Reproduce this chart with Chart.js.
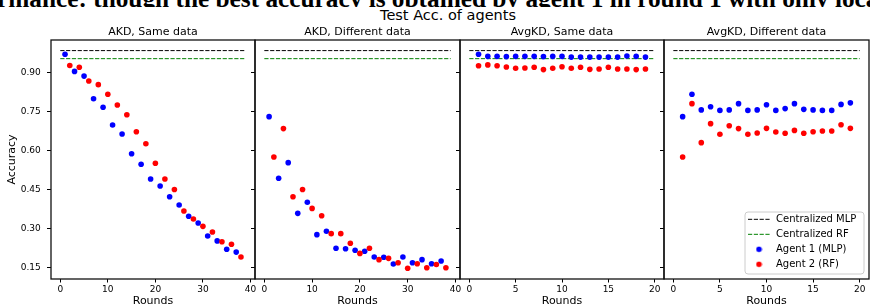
<!DOCTYPE html>
<html><head><meta charset="utf-8">
<script src="https://cdn.jsdelivr.net/npm/chart.js@4.4.0/dist/chart.umd.min.js"></script>
<style>
html,body{margin:0;padding:0;background:#fff;width:870px;height:308px;overflow:hidden;position:relative;}
canvas{position:absolute;top:0;}
#doc{position:absolute;left:0;top:0;width:870px;height:7px;overflow:hidden;}
#doc div{position:absolute;left:-3px;top:-14.3px;white-space:nowrap;font-family:"Liberation Serif";font-weight:bold;font-size:25.3px;line-height:25.3px;color:#000;}
#sup{position:absolute;left:298px;width:300px;top:7.7px;text-align:center;font-family:"DejaVu Sans";font-size:14.5px;line-height:14.5px;color:#000;white-space:nowrap;}
</style></head>
<body>
<div id="doc"><div>rmance: though the best accuracy is obtained by agent 1 in round 1 with only local</div></div>
<div id="sup">Test Acc. of agents</div>
<script>
// ---- data ----
const roundsAkdMLP = [1,3,5,7,9,11,13,15,17,19,21,23,25,27,29,31,33,35,37];
const roundsAkdRF  = [2,4,6,8,10,12,14,16,18,20,22,24,26,28,30,32,34,36,38];
const roundsAvg    = [1,2,3,4,5,6,7,8,9,10,11,12,13,14,15,16,17,18,19];
const lineSpanAkd  = [0, 39];
const lineSpanAvg  = [0, 20];
const centralMLP = 0.985;
const centralRF  = 0.954;
const akdSameMLP = [0.971,0.905,0.887,0.800,0.767,0.699,0.664,0.588,0.548,0.491,0.464,0.423,0.391,0.348,0.322,0.272,0.253,0.221,0.210];
const akdSameRF  = [0.928,0.921,0.868,0.854,0.817,0.776,0.738,0.673,0.627,0.552,0.491,0.451,0.368,0.337,0.309,0.287,0.250,0.240,0.191];
const akdDiffMLP = [0.731,0.494,0.554,0.359,0.402,0.277,0.290,0.225,0.223,0.217,0.213,0.191,0.190,0.164,0.191,0.169,0.181,0.165,0.176];
const akdDiffRF  = [0.576,0.685,0.423,0.451,0.378,0.350,0.281,0.281,0.244,0.205,0.225,0.181,0.186,0.169,0.148,0.165,0.150,0.162,0.150];
const avgSameMLP = [0.971,0.963,0.963,0.962,0.963,0.963,0.963,0.962,0.963,0.963,0.960,0.960,0.960,0.960,0.960,0.960,0.964,0.963,0.960];
const avgSameRF  = [0.927,0.930,0.927,0.922,0.917,0.918,0.921,0.912,0.917,0.923,0.917,0.921,0.913,0.914,0.921,0.914,0.914,0.912,0.914];
const avgDiffMLP = [0.731,0.817,0.757,0.769,0.755,0.757,0.781,0.755,0.757,0.777,0.755,0.762,0.781,0.759,0.757,0.755,0.755,0.778,0.784];
const avgDiffRF  = [0.576,0.781,0.631,0.704,0.663,0.696,0.685,0.663,0.668,0.686,0.672,0.667,0.678,0.667,0.673,0.676,0.676,0.700,0.686];
const yTicks   = [0.15,0.30,0.45,0.60,0.75,0.90];
const xTicksAkd = [0,10,20,30,40];
const xTicksAvg = [0,5,10,15,20];
const panelTitles = ['AKD, Same data','AKD, Different data','AvgKD, Same data','AvgKD, Different data'];
const seriesLabels = ['Centralized MLP','Centralized RF','Agent 1 (MLP)','Agent 2 (RF)'];

// ---- layout ----
const FONT = "'DejaVu Sans', sans-serif";
const panelLeft  = [51, 255, 460, 664];
const panelRight = [255, 460, 664, 869];
const plotTop = 40, plotBottom = 279, H = 308, PADR = 14;
const yMin = 0.1065, yMax = 1.0258;

function icon(kind, color){
  const c = document.createElement('canvas');
  const g = c.getContext('2d');
  if (kind === 'line'){
    c.width = 22; c.height = 3;
    g.strokeStyle = color; g.lineWidth = 1; g.setLineDash([4.2,1.6]);
    g.beginPath(); g.moveTo(0,1.5); g.lineTo(22,1.5); g.stroke();
  } else {
    c.width = 7; c.height = 7;
    g.fillStyle = color; g.beginPath(); g.arc(3.5,3.5,2.8,0,Math.PI*2); g.fill();
  }
  return c;
}
const legendIcons = [icon('line','#000'), icon('line','#008000'), icon('dot','#0000ff'), icon('dot','#ff0000')];

const framePlugin = {
  id:'frame',
  beforeDraw(chart, args, opts){
    if (!opts.legendBox) return;
    const [x0,y0,x1,y1] = opts.legendBox;
    const ctx = chart.ctx; const cl = opts.canvasLeft;
    ctx.save();
    ctx.beginPath();
    ctx.roundRect(x0-cl, y0, x1-x0, y1-y0, 3);
    ctx.fillStyle = 'rgba(255,255,255,0.8)'; ctx.fill();
    ctx.strokeStyle = '#cccccc'; ctx.lineWidth = 1; ctx.stroke();
    ctx.restore();
  },
  afterDraw(chart){
    const a = chart.chartArea; const ctx = chart.ctx;
    ctx.save(); ctx.strokeStyle = '#111'; ctx.lineWidth = 1.3;
    ctx.strokeRect(a.left, a.top, a.right-a.left, a.bottom-a.top);
    ctx.restore();
  }
};

const legendPlace = {
  id:'legendPlace',
  beforeLayout(chart, args, opts){
    const lg = chart.legend;
    if (!lg || lg._patched) return;
    lg._patched = true;
    const origFit = Object.getPrototypeOf(lg).fit;
    lg.fit = function(){ origFit.call(this); this.width = 0; this.height = 0; };
  },
  afterLayout(chart, args, opts){
    const lg = chart.legend; if (!lg) return;
    lg.left = opts.x - opts.canvasLeft; lg.top = opts.y;
    lg.width = 140; lg.height = 80;
    lg.right = lg.left + 140; lg.bottom = lg.top + 80;
  }
};

function pts(xs, ys){ return xs.map((x,i)=>({x:x, y:ys[i]})); }

function makePanel(idx, xsA, ysA, xsB, ysB, span, xTicks, xMin, xMax){
  const showY = idx === 0;
  const yW = showY ? 51 : 6;
  const cl = panelLeft[idx] - yW;
  const cw = yW + (panelRight[idx]-panelLeft[idx]) + PADR;
  const cv = document.createElement('canvas');
  cv.width = cw; cv.height = H;
  cv.style.left = cl + 'px'; cv.style.width = cw + 'px'; cv.style.height = H + 'px';
  document.body.appendChild(cv);
  const showLegend = idx === 3;
  const tickFont = {family: FONT, size: 9};
  new Chart(cv, {
    type:'scatter',
    data:{ datasets:[
      {type:'line', label:seriesLabels[0], data:pts(span,[centralMLP,centralMLP]), borderColor:'#000', borderWidth:1, borderDash:[4.2,1.6], pointRadius:0, fill:false, order:4},
      {type:'line', label:seriesLabels[1], data:pts(span,[centralRF,centralRF]), borderColor:'#008000', borderWidth:1, borderDash:[4.2,1.6], pointRadius:0, fill:false, order:3},
      {label:seriesLabels[2], data:pts(xsA, ysA), backgroundColor:'#0000ff', borderWidth:0, pointRadius:2.8, order:2},
      {label:seriesLabels[3], data:pts(xsB, ysB), backgroundColor:'#ff0000', borderWidth:0, pointRadius:2.8, order:1}
    ]},
    options:{
      responsive:false, animation:false, devicePixelRatio:1, events:[],
      layout:{padding:{left:0, right:PADR, top:0, bottom:0}},
      plugins:{
        title:{display:true, text:panelTitles[idx], fullSize:false, color:'#000', font:{family:FONT, size:11, weight:'normal'}, padding:{top:25.6, bottom:1.2}},
        tooltip:{enabled:false},
        legend: showLegend ? {
          display:true, position:'right', align:'start',
          labels:{
            usePointStyle:true, pointStyleWidth:24, color:'#000', padding:5,
            font:{family:FONT, size:10},
            generateLabels:(chart)=>chart.data.datasets.map((ds,i)=>({
              text: ds.label, datasetIndex:i, hidden:false, fontColor:'#000',
              lineWidth:0, strokeStyle:'rgba(0,0,0,0)', fillStyle:'rgba(0,0,0,0)', pointStyle: legendIcons[i]
            }))
          }
        } : {display:false},
        frame: showLegend ? {legendBox:[745,212,864,274], canvasLeft:cl} : {canvasLeft:cl},
        legendPlace: {x:742, y:209.3, canvasLeft:cl}
      },
      scales:{
        x:{type:'linear', min:xMin, max:xMax,
          afterBuildTicks:(s)=>{ s.ticks = xTicks.map(v=>({value:v})); },
          ticks:{font:tickFont, color:'#000', padding:1.3, maxRotation:0, autoSkip:false, callback:(v)=>String(v)},
          grid:{drawOnChartArea:false, drawTicks:true, tickLength:3.5, color:'#000', lineWidth:1},
          border:{display:false},
          title:{display:true, text:'Rounds', color:'#000', font:{family:FONT, size:11}, padding:{top:0, bottom:0}},
          afterFit:(s)=>{ s.height = H - plotBottom; }
        },
        y:{type:'linear', min:yMin, max:yMax,
          afterBuildTicks:(s)=>{ s.ticks = yTicks.map(v=>({value:v})); },
          ticks:{display:showY, font:tickFont, color:'#000', padding:6.3, callback:(v)=>Number(v).toFixed(2)},
          grid:{drawOnChartArea:false, drawTicks:true, tickLength:4, color:'#000', lineWidth:1},
          border:{display:false},
          title:{display:showY, text:'Accuracy', color:'#000', font:{family:FONT, size:11}, padding:{top:5.8, bottom:0}},
          afterFit:(s)=>{ s.width = yW; }
        }
      }
    },
    plugins: showLegend ? [framePlugin, legendPlace] : [framePlugin]
  });
}

makePanel(0, roundsAkdMLP, akdSameMLP, roundsAkdRF, akdSameRF, lineSpanAkd, xTicksAkd, -1.95, 40.95);
makePanel(1, roundsAkdMLP, akdDiffMLP, roundsAkdRF, akdDiffRF, lineSpanAkd, xTicksAkd, -1.95, 40.95);
makePanel(2, roundsAvg, avgSameMLP, roundsAvg, avgSameRF, lineSpanAvg, xTicksAvg, -1, 21);
makePanel(3, roundsAvg, avgDiffMLP, roundsAvg, avgDiffRF, lineSpanAvg, xTicksAvg, -1, 21);
</script>
</body></html>
